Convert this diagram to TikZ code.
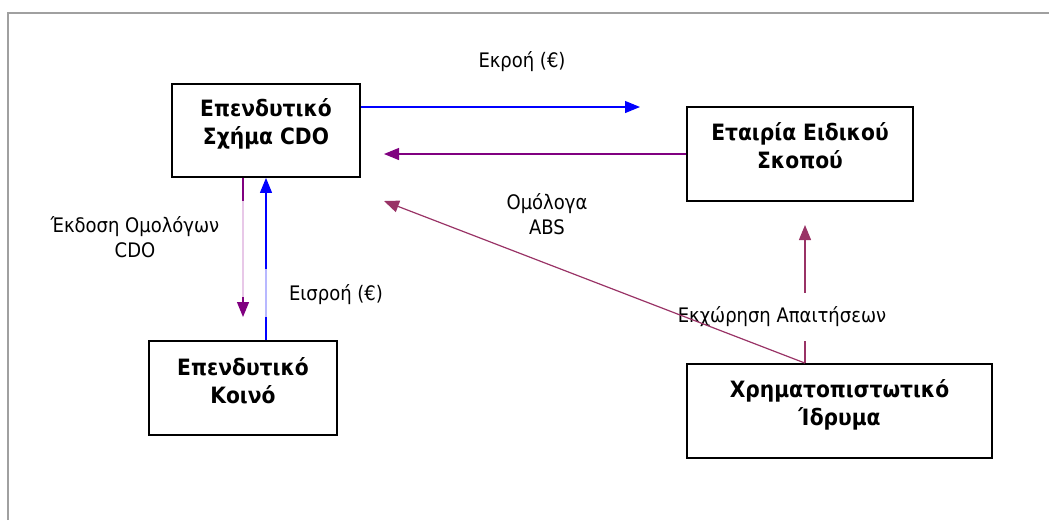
\documentclass[tikz,border=0pt]{standalone}
\usepackage{fontspec}
\setmainfont{DejaVu Sans Condensed}
\usetikzlibrary{arrows.meta,calc}

\definecolor{flowblue}{HTML}{0000FF}
\definecolor{flowpurple}{HTML}{800080}
\definecolor{flowplum}{HTML}{993366}
\definecolor{fadeblue}{HTML}{B8B8FF}
\definecolor{fadepurple}{HTML}{E8C8E8}
\definecolor{framegray}{HTML}{A0A0A0}

\tikzset{
  party/.style={draw=black, line width=1.8pt, rectangle, inner sep=0pt},
  partytext/.style={font=\bfseries\fontsize{22.5}{28}\selectfont, align=center, inner sep=0pt},
  flowlabel/.style={font=\fontsize{20}{25}\selectfont, align=center, inner sep=0pt},
  flow/.style={line width=1.2pt, -{Triangle[length=15pt,width=12pt]}},
}

\begin{document}
\begin{tikzpicture}[x=1pt,y=-1pt]
\useasboundingbox (0,0) rectangle (1049,520);

% page frame (top and left edges)
\draw[framegray, line width=2pt] (8,520) -- (8,13) -- (1049,13);

% parties
\node[party, minimum width=188pt, minimum height=93pt] (cdo) at (266,130.5) {};
\node[partytext] (cdotext) at (266,124) {Επενδυτικό\\Σχήμα CDO};

\node[party, minimum width=226pt, minimum height=94pt] (spv) at (800,154) {};
\node[partytext] (spvtext) at (800,146) {Εταιρία Ειδικού\\Σκοπού};

\node[party, minimum width=188pt, minimum height=94pt] (inv) at (243,388) {};
\node[partytext] (invtext) at (243,381) {Επενδυτικό\\Κοινό};

\node[party, minimum width=305pt, minimum height=94pt] (bank) at (839.5,411) {};
\node[partytext] (banktext) at (839.5,405) {Χρηματοπιστωτικό\\Ίδρυμα};

% free arrow ends
\coordinate (outtip) at (640,107);
\coordinate (abstip) at (384,201);
\coordinate (spvtip) at (384,154);
\coordinate (assigntip) at (805,225);
\coordinate (issuetip) at (243,317);

% outflow to the SPV
\draw[flow, flowblue] ([yshift=23.5pt]cdo.east) -- (outtip);
\node[flowlabel] (outlabel) at (522,62) {Εκροή (€)};

% SPV back to the CDO scheme
\draw[flow, flowpurple] (spv.west) -- (spvtip);

% assignment of receivables
\draw[flow, flowplum] ([xshift=-34.5pt]bank.north) -- (assigntip);
\node[flowlabel, fill=white, minimum height=48pt] (assignlabel) at (782,317) {Εκχώρηση Απαιτήσεων};

% ABS bonds
\draw[flow, flowplum] ([xshift=-34.5pt]bank.north) -- (abstip);
\node[flowlabel] (abslabel) at (547,214.5) {Ομόλογα\\ABS};

% CDO bond issue to investors
\draw[flow, flowpurple] ([xshift=-23pt]cdo.south) -- (issuetip);
\draw[fadepurple, line width=1.2pt] ([xshift=-23pt,yshift=-23pt]cdo.south) -- ++(0,96);
\node[flowlabel] (issuelabel) at (135,237.5) {Έκδοση Ομολόγων\\CDO};

% inflow from investors
\draw[flow, flowblue] ([xshift=23pt]inv.north) -- (cdo.south);
\draw[fadeblue, line width=1.2pt] ([xshift=23pt,yshift=23pt]inv.north) -- ++(0,-48);
\node[flowlabel] (inlabel) at (336,295) {Εισροή (€)};
\end{tikzpicture}
\end{document}
